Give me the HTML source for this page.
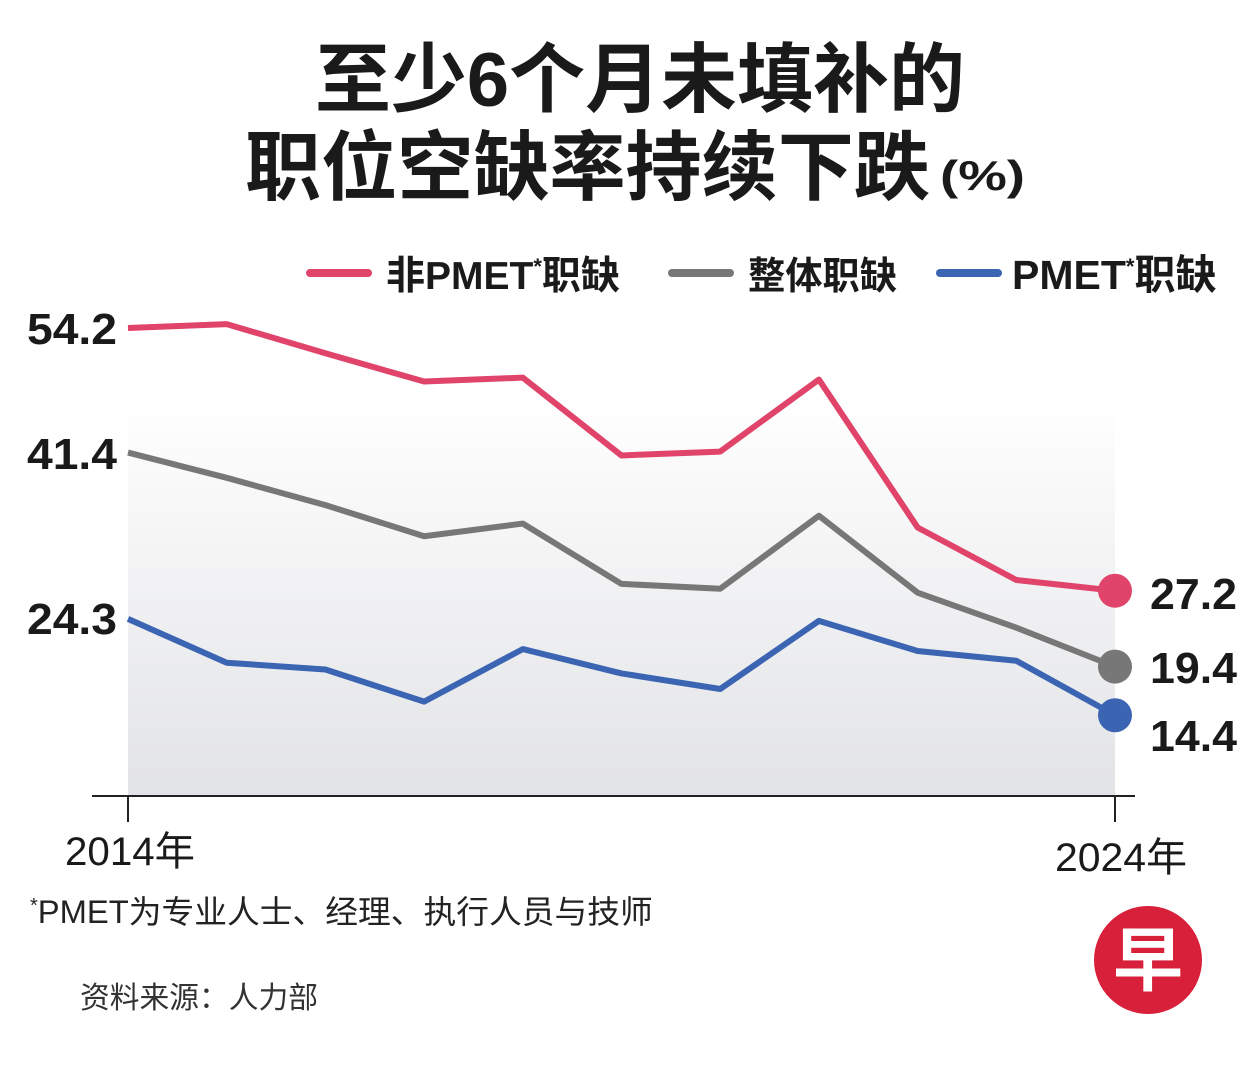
<!DOCTYPE html>
<html><head><meta charset="utf-8"><style>
body{margin:0;width:1251px;height:1060px;background:#fff;overflow:hidden;font-family:"Liberation Sans","Noto Sans CJK SC",sans-serif;}
svg text{font-family:"Liberation Sans","Noto Sans CJK SC",sans-serif;}
</style></head><body>
<svg width="1251" height="1060">
<defs><linearGradient id="bg" x1="0" y1="0" x2="0" y2="1"><stop offset="0" stop-color="#fff"/><stop offset="1" stop-color="#e2e3e6"/></linearGradient></defs>
<text x="315" y="106" textLength="650" lengthAdjust="spacingAndGlyphs" font-size="76" font-weight="bold" fill="#1a1a1a">至少6个月未填补的</text>
<text x="245" y="194" textLength="685" lengthAdjust="spacingAndGlyphs" font-size="76" font-weight="bold" fill="#1a1a1a">职位空缺率持续下跌</text>
<text x="940" y="190" textLength="85" lengthAdjust="spacingAndGlyphs" font-size="42" font-weight="bold" fill="#1a1a1a">(%)</text>
<g>
<line x1="310" y1="273" x2="368" y2="273" stroke="#e0446a" stroke-width="8" stroke-linecap="round"/>
<text x="386" y="289" font-size="39" font-weight="bold" fill="#1a1a1a">非PMET<tspan font-size="22" dy="-15">*</tspan><tspan dy="15">职缺</tspan></text>
<line x1="672" y1="273" x2="730" y2="273" stroke="#777" stroke-width="8" stroke-linecap="round"/>
<text x="748" y="289" textLength="149" lengthAdjust="spacingAndGlyphs" font-size="38" font-weight="bold" fill="#1a1a1a">整体职缺</text>
<line x1="940" y1="273" x2="998" y2="273" stroke="#3b64b3" stroke-width="8" stroke-linecap="round"/>
<text x="1012" y="289" font-size="41" font-weight="bold" fill="#1a1a1a">PMET<tspan font-size="22" dy="-15">*</tspan><tspan dy="15">职缺</tspan></text>
</g>
<rect x="128" y="395" width="987" height="401" fill="url(#bg)"/>
<line x1="92" y1="796" x2="1135" y2="796" stroke="#222" stroke-width="2"/>
<line x1="128" y1="796" x2="128" y2="822" stroke="#222" stroke-width="2"/>
<line x1="1115" y1="796" x2="1115" y2="822" stroke="#222" stroke-width="2"/>
<text x="65" y="865" textLength="130" lengthAdjust="spacingAndGlyphs" font-size="40" fill="#1a1a1a">2014年</text>
<text x="1055" y="871" textLength="132" lengthAdjust="spacingAndGlyphs" font-size="40" fill="#1a1a1a">2024年</text>
<g id="series"></g>
<text x="27" y="344" textLength="90" lengthAdjust="spacingAndGlyphs" font-size="44" font-weight="bold" fill="#1a1a1a">54.2</text>
<text x="27" y="469" textLength="90" lengthAdjust="spacingAndGlyphs" font-size="44" font-weight="bold" fill="#1a1a1a">41.4</text>
<text x="27" y="634" textLength="90" lengthAdjust="spacingAndGlyphs" font-size="44" font-weight="bold" fill="#1a1a1a">24.3</text>
<text x="1150" y="609" textLength="87" lengthAdjust="spacingAndGlyphs" font-size="44" font-weight="bold" fill="#1a1a1a">27.2</text>
<text x="1150" y="683" textLength="87" lengthAdjust="spacingAndGlyphs" font-size="44" font-weight="bold" fill="#1a1a1a">19.4</text>
<text x="1150" y="751" textLength="87" lengthAdjust="spacingAndGlyphs" font-size="44" font-weight="bold" fill="#1a1a1a">14.4</text>
<text x="30" y="923" font-size="32" fill="#222"><tspan font-size="20" dy="-11">*</tspan><tspan dy="11" textLength="615" lengthAdjust="spacingAndGlyphs">PMET为专业人士、经理、执行人员与技师</tspan></text>
<text x="80" y="1008" textLength="238" lengthAdjust="spacingAndGlyphs" font-size="30" fill="#333">资料来源：人力部</text>
<circle cx="1148" cy="960" r="54" fill="#d8203a"/>
<text x="1148" y="985" text-anchor="middle" font-size="70" font-weight="bold" fill="#fff">早</text>
</svg>
<script>
const years=[2014,2015,2016,2017,2018,2019,2020,2021,2022,2023,2024];
const nonPmet=[54.2,54.6,51.6,48.7,49.1,41.1,41.5,48.9,33.7,28.3,27.2];
const overall=[41.4,38.8,36.0,32.8,34.1,27.9,27.4,34.9,27.0,23.4,19.4];
const pmet=[24.3,19.8,19.1,15.8,21.2,18.7,17.1,24.1,21.0,20.0,14.4];
const xs=y=>128+(y-2014)*98.7;
const ys=v=>328+(54.2-v)*9.73;
const g=document.getElementById('series');
const NS='http://www.w3.org/2000/svg';
function draw(vals,color,name){
  const p=document.createElementNS(NS,'polyline');
  p.setAttribute('points',vals.map((v,i)=>xs(years[i])+','+ys(v)).join(' '));
  p.setAttribute('fill','none');p.setAttribute('stroke',color);p.setAttribute('stroke-width','6');p.setAttribute('stroke-linejoin','round');
  
  
  g.appendChild(p);
  const c=document.createElementNS(NS,'circle');
  c.setAttribute('cx',xs(years[years.length-1]));c.setAttribute('cy',ys(vals[vals.length-1]));c.setAttribute('r','17');c.setAttribute('fill',color);
  
  
  g.appendChild(c);
}
draw(nonPmet,'#e0446a','non-pmet');
draw(overall,'#777777','overall');
draw(pmet,'#3b64b3','pmet');
</script>
</body></html>
